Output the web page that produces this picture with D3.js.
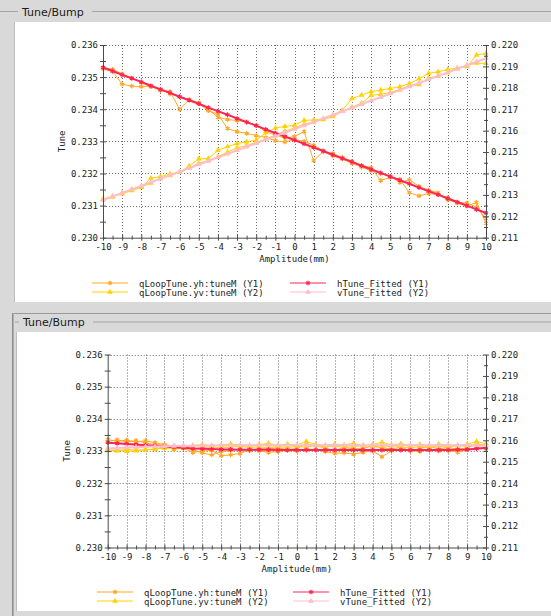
<!DOCTYPE html>
<html><head><meta charset="utf-8">
<script src="https://cdn.jsdelivr.net/npm/d3@7"></script>
<style>
html,body{margin:0;padding:0;background:#d9d9d9;}
svg{display:block;}
</style></head><body>
<svg id="c" width="551" height="616"></svg>
<script>
// ---------- data ----------
const xs = [-10,-9.5,-9,-8.5,-8,-7.5,-7,-6.5,-6,-5.5,-5,-4.5,-4,-3.5,-3,-2.5,-2,-1.5,-1,-0.5,0,0.5,1,1.5,2,2.5,3,3.5,4,4.5,5,5.5,6,6.5,7,7.5,8,8.5,9,9.5,10];
const xTicks = [-10,-9,-8,-7,-6,-5,-4,-3,-2,-1,0,1,2,3,4,5,6,7,8,9,10];
const yLeftTicks = [0.230,0.231,0.232,0.233,0.234,0.235,0.236];
const yRightTicks = [0.211,0.212,0.213,0.214,0.215,0.216,0.217,0.218,0.219,0.220];
const seriesNames = ["qLoopTune.yh:tuneM (Y1)","qLoopTune.yv:tuneM (Y2)","hTune_Fitted (Y1)","vTune_Fitted (Y2)"];
const seriesColors = ["#ffa824","#ffd200","#ff2455","#ffbccb"];
const panelTitle = "Tune/Bump";
const xTitle = "Amplitude(mm)";
const yTitle = "Tune";

// top chart: measured (forward pass -10 -> 10, back pass 10 -> -10) and fitted
const topHMeasFwd = [0.23528,0.23524,0.23510,0.23498,0.23482,0.23470,0.23462,0.23448,0.23438,0.23430,0.23418,0.23395,0.23385,0.23340,0.23330,0.23325,0.23318,0.23312,0.23302,0.23298,0.23305,0.23300,0.23288,0.23270,0.23262,0.23250,0.23238,0.23225,0.23218,0.23178,0.23188,0.23182,0.23140,0.23130,0.23138,0.23134,0.23125,0.23110,0.23108,0.23095,0.23060];
const topHMeasBack = [0.23045,0.23110,0.23098,0.23108,0.23118,0.23140,0.23148,0.23160,0.23180,0.23172,0.23192,0.23200,0.23208,0.23220,0.23232,0.23245,0.23255,0.23268,0.23240,0.23330,0.23315,0.23310,0.23320,0.23330,0.23350,0.23360,0.23365,0.23368,0.23375,0.23400,0.23420,0.23430,0.23400,0.23455,0.23458,0.23472,0.23470,0.23472,0.23478,0.23518,0.23526];
const topVMeasFwd = [0.21280,0.21295,0.21305,0.21320,0.21335,0.21378,0.21385,0.21398,0.21405,0.21435,0.21468,0.21470,0.21508,0.21525,0.21540,0.21548,0.21556,0.21590,0.21612,0.21620,0.21625,0.21648,0.21650,0.21655,0.21672,0.21695,0.21750,0.21766,0.21782,0.21790,0.21797,0.21805,0.21820,0.21842,0.21868,0.21875,0.21886,0.21892,0.21899,0.21953,0.21961];
const topVMeasBack = [0.21914,0.21915,0.21905,0.21888,0.21870,0.21855,0.21845,0.21815,0.21810,0.21792,0.21778,0.21770,0.21765,0.21728,0.21710,0.21690,0.21665,0.21652,0.21640,0.21630,0.21612,0.21598,0.21580,0.21560,0.21545,0.21530,0.21520,0.21500,0.21478,0.21460,0.21448,0.21425,0.21405,0.21390,0.21378,0.21355,0.21338,0.21325,0.21310,0.21290,0.21278];
const topHFit = [0.23530,0.23519,0.23507,0.23496,0.23485,0.23473,0.23462,0.23451,0.23439,0.23428,0.23417,0.23405,0.23394,0.23383,0.23371,0.23360,0.23349,0.23337,0.23326,0.23315,0.23304,0.23292,0.23281,0.23270,0.23258,0.23247,0.23236,0.23224,0.23213,0.23202,0.23190,0.23179,0.23168,0.23156,0.23145,0.23134,0.23122,0.23111,0.23100,0.23088,0.23077];
const topVFit = [0.21276,0.21293,0.21309,0.21326,0.21342,0.21359,0.21375,0.21392,0.21408,0.21425,0.21442,0.21458,0.21475,0.21491,0.21508,0.21524,0.21541,0.21558,0.21574,0.21591,0.21607,0.21624,0.21640,0.21657,0.21673,0.21690,0.21706,0.21723,0.21740,0.21756,0.21773,0.21789,0.21806,0.21822,0.21839,0.21856,0.21872,0.21889,0.21905,0.21922,0.21938];

// bottom chart
const botHMeasFwd = [0.23330,0.23335,0.23328,0.23332,0.23325,0.23320,0.23318,0.23305,0.23310,0.23295,0.23300,0.23302,0.23285,0.23288,0.23292,0.23305,0.23300,0.23296,0.23298,0.23302,0.23300,0.23306,0.23304,0.23298,0.23293,0.23294,0.23290,0.23296,0.23300,0.23282,0.23300,0.23305,0.23302,0.23298,0.23304,0.23300,0.23302,0.23296,0.23304,0.23310,0.23306];
const botHMeasBack = [0.23318,0.23322,0.23310,0.23305,0.23312,0.23306,0.23315,0.23308,0.23300,0.23312,0.23306,0.23310,0.23316,0.23308,0.23306,0.23312,0.23300,0.23310,0.23316,0.23322,0.23308,0.23304,0.23310,0.23306,0.23308,0.23300,0.23306,0.23302,0.23298,0.23288,0.23294,0.23305,0.23308,0.23315,0.23320,0.23326,0.23332,0.23328,0.23334,0.23330,0.23336];
const botVMeasFwd = [0.21552,0.21556,0.21548,0.21551,0.21555,0.21561,0.21566,0.21571,0.21568,0.21576,0.21580,0.21574,0.21578,0.21583,0.21576,0.21572,0.21580,0.21586,0.21576,0.21582,0.21578,0.21594,0.21581,0.21576,0.21582,0.21578,0.21586,0.21574,0.21580,0.21591,0.21578,0.21584,0.21576,0.21581,0.21574,0.21582,0.21578,0.21574,0.21581,0.21594,0.21584];
const botVMeasBack = [0.21576,0.21581,0.21571,0.21576,0.21568,0.21574,0.21566,0.21572,0.21564,0.21570,0.21574,0.21566,0.21572,0.21576,0.21571,0.21566,0.21574,0.21570,0.21576,0.21568,0.21572,0.21566,0.21571,0.21564,0.21570,0.21566,0.21572,0.21568,0.21564,0.21570,0.21566,0.21562,0.21566,0.21561,0.21564,0.21558,0.21556,0.21554,0.21558,0.21551,0.21554];
const botHFit = [0.23326,0.23324,0.23322,0.23320,0.23318,0.23316,0.23314,0.23312,0.23310,0.23308,0.23307,0.23306,0.23305,0.23305,0.23304,0.23304,0.23304,0.23304,0.23303,0.23303,0.23303,0.23303,0.23303,0.23303,0.23303,0.23303,0.23303,0.23303,0.23303,0.23303,0.23303,0.23303,0.23303,0.23303,0.23303,0.23303,0.23303,0.23304,0.23305,0.23307,0.23310];
const botVFit = [0.21562,0.21564,0.21566,0.21568,0.21570,0.21571,0.21572,0.21573,0.21574,0.21575,0.21575,0.21576,0.21576,0.21576,0.21577,0.21577,0.21577,0.21577,0.21577,0.21577,0.21577,0.21577,0.21577,0.21577,0.21577,0.21577,0.21577,0.21577,0.21577,0.21577,0.21577,0.21577,0.21577,0.21577,0.21577,0.21577,0.21577,0.21577,0.21577,0.21576,0.21576];

// ---------- drawing ----------
const svg = d3.select("#c");
const MONO = "'DejaVu Sans Mono','Liberation Mono',monospace";
const SANS = "'DejaVu Sans',sans-serif";
const xsRev = xs.slice().reverse();
function measured(fwd, back){ return xs.map((x,i)=>[x,fwd[i]]).concat(xsRev.map((x,i)=>[x,back[i]])); }
function fitted(v){ return xs.map((x,i)=>[x,v[i]]); }

const asterisk = { draw(ctx, size){ const r = Math.sqrt(size)/2;
  for (let k=0;k<3;k++){ const a = Math.PI/2 + k*Math.PI/3; const dx=r*Math.cos(a), dy=r*Math.sin(a);
    ctx.moveTo(-dx,-dy); ctx.lineTo(dx,dy);} } };
const markerTypes = [asterisk, d3.symbolTriangle, asterisk, d3.symbolTriangle];
const markerSizes = [22, 14, 22, 14];

function marker(g, t, x, y, color){
  const p = g.append("path").attr("transform",`translate(${x},${y})`)
    .attr("d", d3.symbol().type(markerTypes[t]).size(markerSizes[t])());
  if (markerTypes[t] === asterisk) p.attr("fill","none").attr("stroke",color).attr("stroke-width",1.2);
  else p.attr("fill",color).attr("stroke","none");
}

function panel(p){
  svg.append("line").attr("x1",p.lineX0).attr("x2",p.titleX-4).attr("y1",p.lineY).attr("y2",p.lineY).attr("stroke","#a6a6a6");
  svg.append("line").attr("x1",p.titleX+70).attr("x2",551).attr("y1",p.lineY).attr("y2",p.lineY).attr("stroke","#a6a6a6");
  svg.append("text").attr("x",p.titleX).attr("y",p.lineY+4).attr("font-family",SANS).attr("font-size",11)
    .attr("fill","#1a1a1a").text(panelTitle);
  svg.append("rect").attr("x",p.wx).attr("y",p.wy).attr("width",551-p.wx).attr("height",p.wh).attr("fill","#ffffff");
  svg.append("line").attr("x1",p.wx-0.5).attr("x2",p.wx-0.5).attr("y1",p.wy).attr("y2",p.wy+p.wh).attr("stroke","#bdbdbd");
}

function chart(c){
  const g = svg.append("g");
  const x = d3.scaleLinear().domain([-10,10]).range([c.left,c.right]);
  const yL = d3.scaleLinear().domain([0.230,0.236]).range([c.bottom,c.top]);
  const yR = d3.scaleLinear().domain([0.211,0.220]).range([c.bottom,c.top]);
  const grid = g.append("g").attr("stroke","#6e6e6e").attr("stroke-dasharray","1,2").attr("stroke-width",1);
  xTicks.slice(1,-1).forEach(t=>grid.append("line").attr("x1",Math.round(x(t))+0.5).attr("x2",Math.round(x(t))+0.5).attr("y1",c.top).attr("y2",c.bottom));
  yLeftTicks.slice(1).forEach(t=>grid.append("line").attr("y1",Math.round(yL(t))+0.5).attr("y2",Math.round(yL(t))+0.5).attr("x1",c.left).attr("x2",c.right));

  const sets = [
    {pts: measured(c.hF, c.hB), y: yL, s:0, w:1},
    {pts: measured(c.vF, c.vB), y: yR, s:1, w:1},
    {pts: fitted(c.hFit), y: yL, s:2, w:2},
    {pts: fitted(c.vFit), y: yR, s:3, w:2}
  ];
  sets.forEach(st=>{
    const line = d3.line().x(d=>x(d[0])).y(d=>st.y(d[1]));
    g.append("path").attr("d",line(st.pts)).attr("fill","none").attr("stroke",seriesColors[st.s]).attr("stroke-width",st.w);
    const mg = g.append("g");
    st.pts.forEach(d=>marker(mg, st.s, x(d[0]), st.y(d[1]), seriesColors[st.s]));
  });

  const fmt3 = d3.format(".3f");
  const axStyle = sel=>{ sel.select(".domain").attr("stroke","#4a4a4a");
    sel.selectAll(".tick line").attr("stroke","#4a4a4a");
    sel.selectAll("text").attr("font-family",MONO).attr("font-size",9).attr("fill","#222"); };
  const ax = g.append("g").attr("transform",`translate(0,${c.bottom})`)
    .call(d3.axisBottom(x).tickValues(xTicks).tickSize(3).tickPadding(3).tickSizeOuter(0).tickFormat(d=>String(d)));
  ax.call(axStyle); ax.selectAll(".tick line").attr("y1",-3);
  const axm = g.append("g").attr("transform",`translate(0,${c.bottom})`)
    .call(d3.axisBottom(x).tickValues(d3.range(-9.5,10,1)).tickSize(2).tickFormat("").tickSizeOuter(0));
  axm.call(axStyle); axm.select(".domain").remove(); axm.selectAll(".tick line").attr("y1",-2);

  const al = g.append("g").attr("transform",`translate(${c.left},0)`)
    .call(d3.axisLeft(yL).tickValues(yLeftTicks).tickSize(3).tickPadding(2).tickSizeOuter(0).tickFormat(fmt3));
  al.call(axStyle); al.selectAll(".tick line").attr("x1",3);
  const alm = g.append("g").attr("transform",`translate(${c.left},0)`)
    .call(d3.axisLeft(yL).tickValues(d3.range(0.2305,0.236,0.001)).tickSize(3).tickFormat("").tickSizeOuter(0));
  alm.call(axStyle); alm.select(".domain").remove(); alm.selectAll(".tick line").attr("x1",3);

  const ar = g.append("g").attr("transform",`translate(${c.right},0)`)
    .call(d3.axisRight(yR).tickValues(yRightTicks).tickSize(3).tickPadding(2).tickSizeOuter(0).tickFormat(fmt3));
  ar.call(axStyle); ar.selectAll(".tick line").attr("x1",-3);
  const arm = g.append("g").attr("transform",`translate(${c.right},0)`)
    .call(d3.axisRight(yR).tickValues(d3.range(0.2115,0.220,0.001)).tickSize(2).tickFormat("").tickSizeOuter(0));
  arm.call(axStyle); arm.select(".domain").remove(); arm.selectAll(".tick line").attr("x1",-2);

  g.append("text").attr("x",(c.left+c.right)/2).attr("y",c.bottom+24.5).attr("text-anchor","middle")
    .attr("font-family",MONO).attr("font-size",9).attr("fill","#222").text(xTitle);
  g.append("text").attr("transform",`translate(${c.left-38},${(c.top+c.bottom)/2}) rotate(-90)`).attr("text-anchor","middle")
    .attr("font-family",MONO).attr("font-size",9).attr("fill","#222").text(yTitle);

  const cols = [c.legX1, c.legX1, c.legX2, c.legX2];
  const rows = [c.legY, c.legY+9, c.legY, c.legY+9];
  seriesNames.forEach((n,i)=>{
    g.append("line").attr("x1",cols[i]).attr("x2",cols[i]+36).attr("y1",rows[i]).attr("y2",rows[i])
      .attr("stroke",seriesColors[i]).attr("stroke-width",1);
    marker(g, i, cols[i]+18, rows[i], seriesColors[i]);
    g.append("text").attr("x",cols[i]+47).attr("y",rows[i]+3.5).attr("font-family",MONO).attr("font-size",9)
      .attr("fill","#222").text(n);
  });
}

panel({lineX0:0, lineY:11.5, titleX:22, wx:15, wy:22, wh:280});
svg.append("line").attr("x1",12).attr("x2",551).attr("y1",313.5).attr("y2",313.5).attr("stroke","#9a9a9a");
svg.append("line").attr("x1",12.5).attr("x2",12.5).attr("y1",313).attr("y2",616).attr("stroke","#8a8a8a");
svg.append("line").attr("x1",13.5).attr("x2",13.5).attr("y1",313).attr("y2",616).attr("stroke","#b0b0b0");
panel({lineX0:15, lineY:322, titleX:23, wx:17, wy:332, wh:279});

chart({left:103, right:486, top:45, bottom:237.7, hF:topHMeasFwd, hB:topHMeasBack, vF:topVMeasFwd, vB:topVMeasBack,
  hFit:topHFit, vFit:topVFit, legX1:92, legX2:290, legY:283});
chart({left:107.7, right:486, top:354.5, bottom:547.5, hF:botHMeasFwd, hB:botHMeasBack, vF:botVMeasFwd, vB:botVMeasBack,
  hFit:botHFit, vFit:botVFit, legX1:97, legX2:293, legY:592});
</script>
</body></html>
